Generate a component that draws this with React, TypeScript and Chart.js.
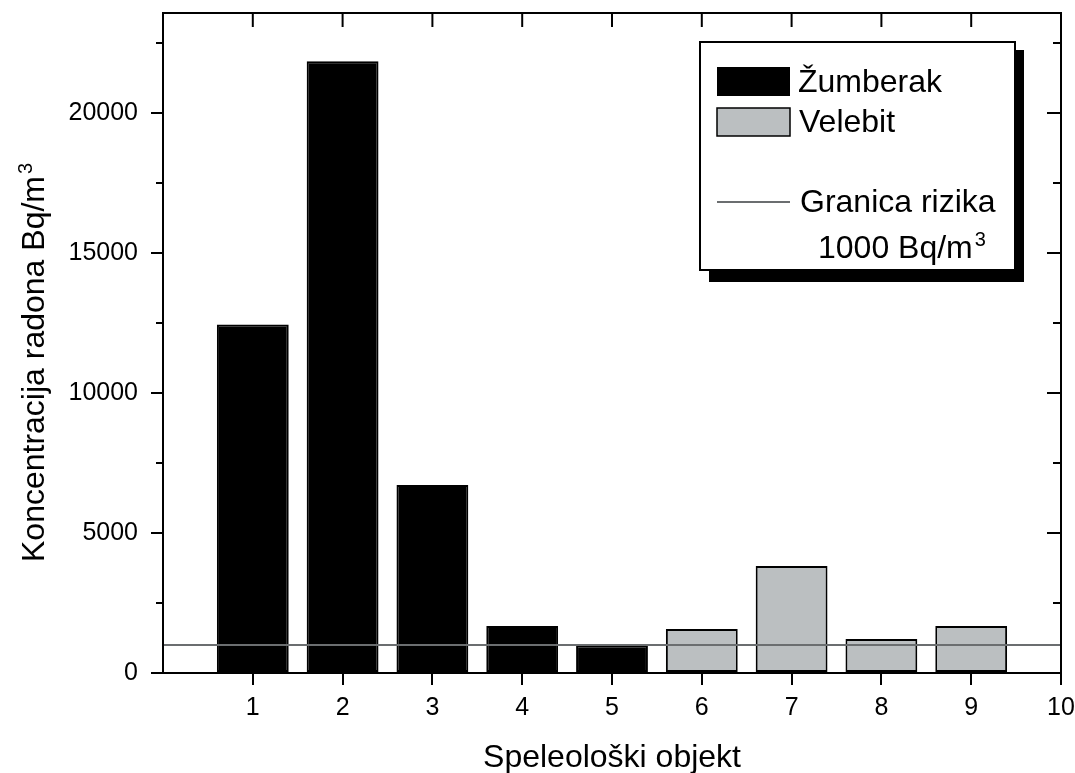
import React, { useEffect, useRef } from 'react';
import { Chart, registerables } from 'chart.js';

Chart.register(...registerables);

const FONT = '"Liberation Sans", Arial, Helvetica, sans-serif';

// Data
const zumberakObjects = [1, 2, 3, 4, 5];
const zumberakValues = [12450, 21850, 6710, 1680, 980];
const velebitObjects = [6, 7, 8, 9];
const velebitValues = [1570, 3820, 1210, 1680];
const riskLimit = 1000;
const xRange = [0, 10];
const yRange = [0, 23570];
const yMajorTicks = [0, 5000, 10000, 15000, 20000];
const yMinorTicks = [2500, 7500, 12500, 17500, 22500];
const xMajorTicks = [1, 2, 3, 4, 5, 6, 7, 8, 9, 10];

const legendLabels = ['Žumberak', 'Velebit', 'Granica rizika', '1000 Bq/m'];
const xTitle = 'Speleološki objekt';
const yTitle = 'Koncentracija radona Bq/m';
const superscript = '3';

const BLACK = '#000000';
const GRAY_FILL = '#bbbfc1';
const LINE_GRAY = '#6b6e70';

const overlayPlugin = {
  id: 'overlay',
  afterDraw(chart: any) {
    const ctx = chart.ctx as CanvasRenderingContext2D;
    const area = chart.chartArea;
    const xs = chart.scales.x;
    const ys = chart.scales.y;
    ctx.save();
    ctx.strokeStyle = BLACK;
    ctx.lineWidth = 2;
    // frame
    ctx.strokeRect(area.left, area.top, area.right - area.left, area.bottom - area.top);
    ctx.beginPath();
    // left minor ticks (outward)
    yMinorTicks.forEach((v) => {
      const py = ys.getPixelForValue(v);
      ctx.moveTo(area.left - 7, py);
      ctx.lineTo(area.left, py);
    });
    // right ticks (inward)
    yMajorTicks.forEach((v) => {
      if (v === 0) return;
      const py = ys.getPixelForValue(v);
      ctx.moveTo(area.right - 14, py);
      ctx.lineTo(area.right, py);
    });
    yMinorTicks.forEach((v) => {
      const py = ys.getPixelForValue(v);
      ctx.moveTo(area.right - 8, py);
      ctx.lineTo(area.right, py);
    });
    // top ticks (inward)
    xMajorTicks.forEach((v) => {
      if (v === 10) return;
      const px = xs.getPixelForValue(v);
      ctx.moveTo(px, area.top);
      ctx.lineTo(px, area.top + 14);
    });
    ctx.stroke();

    // Legend
    ctx.fillStyle = BLACK;
    ctx.fillRect(709, 50, 315, 232);
    ctx.fillStyle = '#ffffff';
    ctx.fillRect(700, 42, 315, 228);
    ctx.lineWidth = 2;
    ctx.strokeRect(700, 42, 315, 228);
    ctx.fillStyle = BLACK;
    ctx.fillRect(717, 67, 73, 29);
    ctx.fillStyle = GRAY_FILL;
    ctx.fillRect(717, 108, 73, 28);
    ctx.lineWidth = 1.5;
    ctx.strokeRect(717, 108, 73, 28);
    ctx.strokeStyle = LINE_GRAY;
    ctx.lineWidth = 2;
    ctx.beginPath();
    ctx.moveTo(717, 202);
    ctx.lineTo(790, 202);
    ctx.stroke();

    ctx.fillStyle = BLACK;
    ctx.textAlign = 'left';
    ctx.textBaseline = 'alphabetic';
    ctx.font = `32px ${FONT}`;
    ctx.fillText(legendLabels[0], 798, 92);
    ctx.fillText(legendLabels[1], 799, 132);
    ctx.fillText(legendLabels[2], 800, 212);
    ctx.fillText(legendLabels[3], 818, 258);
    const w3 = ctx.measureText(legendLabels[3]).width;
    ctx.font = `20px ${FONT}`;
    ctx.fillText(superscript, 818 + w3 + 2, 246);

    // X title
    ctx.font = `32px ${FONT}`;
    ctx.textAlign = 'center';
    ctx.fillText(xTitle, (area.left + area.right) / 2, 767);

    // Y title
    ctx.save();
    ctx.translate(44, 369);
    ctx.rotate(-Math.PI / 2);
    ctx.textAlign = 'left';
    ctx.font = `32px ${FONT}`;
    const wy = ctx.measureText(yTitle).width;
    ctx.fillText(yTitle, -wy / 2, 0);
    ctx.font = `20px ${FONT}`;
    ctx.fillText(superscript, wy / 2 + 2, -12);
    ctx.restore();

    ctx.restore();
  },
};

export default function App() {
  const canvasRef = useRef<HTMLCanvasElement | null>(null);

  useEffect(() => {
    if (!canvasRef.current) return;
    const chart = new Chart(canvasRef.current, {
      type: 'bar',
      data: {
        datasets: [
          {
            type: 'line',
            label: 'Granica rizika',
            data: [
              { x: xRange[0], y: riskLimit },
              { x: xRange[1], y: riskLimit },
            ],
            borderColor: LINE_GRAY,
            borderWidth: 2,
            pointRadius: 0,
            order: 0,
          } as any,
          {
            type: 'bar',
            label: 'Žumberak',
            data: zumberakObjects.map((x, i) => ({ x, y: zumberakValues[i] })),
            backgroundColor: BLACK,
            borderColor: BLACK,
            borderWidth: 2,
            borderSkipped: false,
            order: 1,
          } as any,
          {
            type: 'bar',
            label: 'Velebit',
            data: velebitObjects.map((x, i) => ({ x, y: velebitValues[i] })),
            backgroundColor: GRAY_FILL,
            borderColor: BLACK,
            borderWidth: 2,
            borderSkipped: false,
            order: 1,
          } as any,
        ],
      },
      options: {
        responsive: false,
        animation: false,
        grouped: false,
        barPercentage: 0.8,
        categoryPercentage: 1,
        layout: { padding: { left: 0, top: 13, right: 14, bottom: 0 } },
        plugins: {
          legend: { display: false },
          tooltip: { enabled: false },
          title: { display: false },
        },
        scales: {
          x: {
            type: 'linear',
            offset: false,
            min: xRange[0],
            max: xRange[1],
            afterBuildTicks: (scale: any) => {
              scale.ticks = xMajorTicks.map((v) => ({ value: v }));
            },
            afterFit: (scale: any) => {
              scale.height = 100;
              scale.paddingLeft = 0;
              scale.paddingRight = 0;
            },
            ticks: {
              color: BLACK,
              font: { family: FONT, size: 25 },
              padding: 8,
              maxRotation: 0,
              autoSkip: false,
              callback: (v: any) => String(v),
            },
            grid: {
              display: true,
              offset: false,
              drawOnChartArea: false,
              drawTicks: true,
              tickLength: 12,
              color: BLACK,
              lineWidth: 2,
            },
            border: { display: false },
          },
          y: {
            type: 'linear',
            min: yRange[0],
            max: yRange[1],
            afterBuildTicks: (scale: any) => {
              scale.ticks = yMajorTicks.map((v) => ({ value: v }));
            },
            afterFit: (scale: any) => {
              scale.width = 163;
              scale.paddingTop = 0;
              scale.paddingBottom = 0;
            },
            ticks: {
              color: BLACK,
              font: { family: FONT, size: 25 },
              padding: 13,
              autoSkip: false,
              callback: (v: any) => String(v),
            },
            grid: {
              display: true,
              drawOnChartArea: false,
              drawTicks: true,
              tickLength: 12,
              color: BLACK,
              lineWidth: 2,
            },
            border: { display: false },
          },
        },
      } as any,
      plugins: [overlayPlugin],
    });
    return () => chart.destroy();
  }, []);

  return (
    <div style={{ position: 'fixed', left: 0, top: 0, width: 1075, height: 773, background: '#ffffff' }}>
      <canvas ref={canvasRef} width={1075} height={773} />
    </div>
  );
}
